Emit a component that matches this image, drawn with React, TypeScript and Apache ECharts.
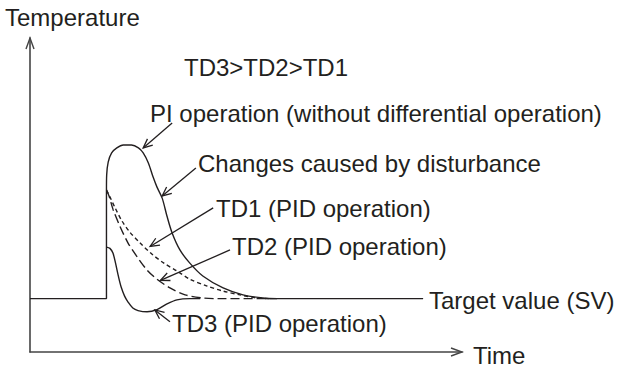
import React, { useEffect, useRef } from "react";
import * as echarts from "echarts";

// Schematic units: time 0..100, temperature 0..100
const targetValue = 17;

const beforeStep: [number, number][] = [
  [0, 17], [17.7, 17], [17.7, 51.6],
];

const piCurve: [number, number][] = [
  [17.7, 51.6], [17.75, 56.4], [18.1, 60.5], [18.9, 63.4], [20.1, 65.0], [21.6, 65.9],
  [23.5, 65.9], [25.1, 65.0], [26.2, 63.4], [27.4, 60.2], [28.5, 55.7], [29.4, 52.5],
  [30.6, 49.0], [31.7, 43.3], [32.9, 37.9], [34.7, 32.5], [37.0, 28.3], [40.0, 24.2],
  [44.7, 20.4], [49.3, 18.2], [53.9, 17.2], [57.2, 17.0],
];

const td1Curve: [number, number][] = [
  [17.7, 51.6], [18.5, 49.4], [19.7, 45.9], [21.3, 41.7], [23.1, 38.2], [25.5, 34.7],
  [28.2, 31.2], [31.0, 28.3], [34.0, 25.8], [37.0, 23.2], [41.0, 21.0], [44.7, 19.4],
  [48.6, 18.2], [52.5, 17.2], [56.0, 17.0],
];

const td2Curve: [number, number][] = [
  [17.7, 51.6], [18.3, 49.7], [19.2, 45.5], [20.8, 40.1], [22.7, 34.7], [24.8, 30.3],
  [27.1, 26.1], [29.4, 23.2], [32.4, 20.4], [35.9, 18.2], [40.0, 17.2], [43.5, 17.0],
  [55.6, 17.0],
];

const td3Curve: [number, number][] = [
  [17.7, 33.4], [18.5, 33.0], [19.2, 31.5], [19.8, 28.3], [20.5, 23.9], [21.1, 20.7],
  [21.9, 17.8], [22.7, 15.9], [23.8, 14.0], [25.0, 13.2], [27.1, 12.8], [29.4, 13.5],
  [31.7, 15.3], [34.0, 16.6], [37.0, 17.0], [39.4, 17.0],
];

const targetLine: [number, number][] = [
  [55.6, targetValue], [91.0, targetValue],
];

// annotation arrows, [time, temperature] from -> to (tip)
const arrowFrom: [number, number][] = [
  [32.9, 72.9], [38.4, 58.6], [42.4, 45.9], [46.3, 32.5], [32.4, 9.6],
];
const arrowTo: [number, number][] = [
  [26.2, 65.0], [30.6, 49.7], [27.8, 33.6], [30.2, 22.8], [28.9, 13.4],
];

const labelTexts = [
  "Temperature",
  "TD3>TD2>TD1",
  "PI operation (without differential operation)",
  "Changes caused by disturbance",
  "TD1 (PID operation)",
  "TD2 (PID operation)",
  "Target value (SV)",
  "TD3 (PID operation)",
  "Time",
];

const INK = "#231f20";
const FONT = "Liberation Sans, Arial, Helvetica, sans-serif";

export default function App() {
  const ref = useRef<HTMLDivElement>(null);

  useEffect(() => {
    if (!ref.current) return;
    const chart = echarts.init(ref.current, null, { renderer: "svg" });
    const curveStyle = (type: any) => ({ color: INK, width: 1.4, type });
    const mk = (name: string, data: [number, number][], type: any, smooth: number | boolean) => ({
      name,
      type: "line",
      data,
      smooth,
      symbol: "none",
      lineStyle: curveStyle(type),
      silent: true,
    });
    chart.setOption({
      animation: false,
      backgroundColor: "#ffffff",
      grid: { left: 30, right: 155, top: 38, bottom: 17 },
      xAxis: {
        type: "value", min: 0, max: 100,
        axisLine: { show: true, lineStyle: { color: "#444", width: 1.6 } },
        axisTick: { show: false }, axisLabel: { show: false }, splitLine: { show: false },
      },
      yAxis: {
        type: "value", min: 0, max: 100,
        axisLine: { show: true, lineStyle: { color: "#444", width: 1.6 } },
        axisTick: { show: false }, axisLabel: { show: false }, splitLine: { show: false },
      },
      series: [
        mk("Before", beforeStep, "solid", false),
        mk("PI", piCurve, "solid", 0.3),
        mk("TD1", td1Curve, [4, 3], 0.3),
        mk("TD2", td2Curve, [9, 4], 0.3),
        mk("TD3", td3Curve, "solid", 0.3),
        mk("SV", targetLine, "solid", false),
      ],
    });

    const px = (p: [number, number]) => chart.convertToPixel({ gridIndex: 0 }, p) as number[];
    const graphics: any[] = [];

    // axis arrowheads
    const yTop = px([0, 100]);
    graphics.push({
      type: "polyline", silent: true,
      shape: { points: [[yTop[0] - 4, yTop[1] + 11], [yTop[0], yTop[1]], [yTop[0] + 4, yTop[1] + 11]] },
      style: { stroke: "#444", lineWidth: 1.4, fill: null },
    });
    const xEnd = px([100, 0]);
    graphics.push({
      type: "polyline", silent: true,
      shape: { points: [[xEnd[0] - 11, xEnd[1] - 4], [xEnd[0], xEnd[1]], [xEnd[0] - 11, xEnd[1] + 4]] },
      style: { stroke: "#444", lineWidth: 1.4, fill: null },
    });

    // annotation arrows
    for (let i = 0; i < arrowFrom.length; i++) {
      const a = px(arrowFrom[i]);
      const b = px(arrowTo[i]);
      const ang = Math.atan2(a[1] - b[1], a[0] - b[0]);
      const L = 10, W = 0.42;
      const w1 = [b[0] + L * Math.cos(ang + W), b[1] + L * Math.sin(ang + W)];
      const w2 = [b[0] + L * Math.cos(ang - W), b[1] + L * Math.sin(ang - W)];
      graphics.push({
        type: "line", silent: true,
        shape: { x1: a[0], y1: a[1], x2: b[0], y2: b[1] },
        style: { stroke: INK, lineWidth: 1.3 },
      });
      graphics.push({
        type: "polyline", silent: true,
        shape: { points: [w1, [b[0], b[1]], w2] },
        style: { stroke: INK, lineWidth: 1.3, fill: null },
      });
    }

    const labelPos: [number, number][] = [
      [5, 17], [184, 67], [150, 113], [198, 163], [216, 208], [232, 246], [429, 300], [172, 323], [473, 355],
    ];
    labelTexts.forEach((t, i) => {
      graphics.push({
        type: "text", silent: true,
        style: {
          text: t, x: labelPos[i][0], y: labelPos[i][1],
          fill: INK, fontSize: 24, fontFamily: FONT,
          align: "left", verticalAlign: "middle",
        },
      });
    });

    chart.setOption({ graphic: graphics });
    return () => chart.dispose();
  }, []);

  return (
    <div
      ref={ref}
      style={{ position: "absolute", left: 0, top: 0, width: 617, height: 369, background: "#fff" }}
    />
  );
}
